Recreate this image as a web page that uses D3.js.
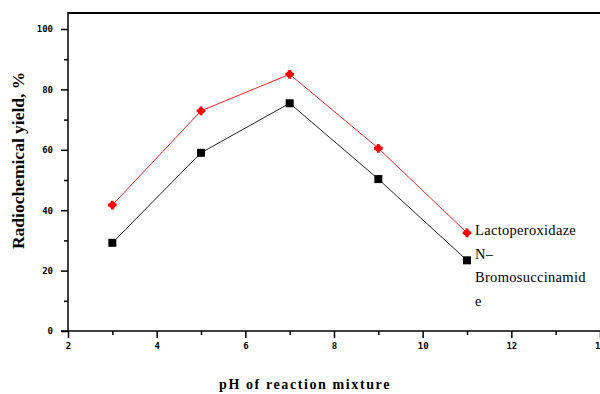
<!DOCTYPE html>
<html><head><meta charset="utf-8">
<script src="https://cdn.jsdelivr.net/npm/d3@7/dist/d3.min.js"></script>
<style>body{margin:0;background:#fff}svg{display:block}</style>
</head><body><svg id="c" width="600" height="394"></svg>
<script>
const phValues = [3, 5, 7, 9, 11];
const lactoperoxidaze = [41.7, 72.9, 85.0, 60.5, 32.5];
const bromosuccinamide = [29.2, 59.0, 75.4, 50.3, 23.4];
const xTicks = [2, 4, 6, 8, 10, 12, 14];
const yTicks = [0, 20, 40, 60, 80, 100];
const legendLines = ["Lactoperoxidaze", "N\u2013", "Bromosuccinamid", "e"];

const svg = d3.select("#c");
const x = d3.scaleLinear().domain([2, 14]).range([68, 600]);
const y = d3.scaleLinear().domain([0, 100]).range([331, 29]);
const yTop = y(105.3);

// frame top
svg.append("line").attr("x1", x(2)).attr("x2", 600).attr("y1", yTop).attr("y2", yTop)
  .attr("stroke", "#000").attr("stroke-width", 2);

const tickFont = "'DejaVu Sans Mono', monospace";

// y axis
const yAxis = svg.append("g").attr("transform", `translate(${x(2)},0)`)
  .call(d3.axisLeft(y).tickValues(yTicks).tickSize(7).tickPadding(8).tickFormat(d3.format("d")));
yAxis.select(".domain").remove();
yAxis.selectAll("text").attr("font-family", tickFont).attr("font-weight", "bold").attr("font-size", 9).attr("fill", "#000");
yAxis.selectAll("line").attr("stroke-width", 1.5);
svg.append("g").attr("transform", `translate(${x(2)},0)`)
  .call(d3.axisLeft(y).tickValues(d3.range(10, 100, 20)).tickSize(4).tickFormat(""))
  .call(g => g.select(".domain").remove())
  .selectAll("line").attr("stroke-width", 1.5);
svg.append("line").attr("x1", x(2)).attr("x2", x(2)).attr("y1", yTop - 1).attr("y2", y(0))
  .attr("stroke", "#000").attr("stroke-width", 1.5);

// x axis
const xAxis = svg.append("g").attr("transform", `translate(0,${y(0)})`)
  .call(d3.axisBottom(x).tickValues(xTicks).tickSize(7).tickPadding(5).tickFormat(d3.format("d")));
xAxis.select(".domain").remove();
xAxis.selectAll("text").attr("font-family", tickFont).attr("font-weight", "bold").attr("font-size", 9).attr("fill", "#000");
xAxis.selectAll("line").attr("stroke-width", 1.5);
svg.append("g").attr("transform", `translate(0,${y(0)})`)
  .call(d3.axisBottom(x).tickValues(d3.range(3, 14, 2)).tickSize(4).tickFormat(""))
  .call(g => g.select(".domain").remove())
  .selectAll("line").attr("stroke-width", 1.5);
svg.append("line").attr("x1", x(2) - 7).attr("x2", 600).attr("y1", y(0)).attr("y2", y(0))
  .attr("stroke", "#000").attr("stroke-width", 1.5);

// series
const line = d3.line().x((d, i) => x(phValues[i])).y(d => y(d));
svg.append("path").datum(bromosuccinamide).attr("d", line)
  .attr("fill", "none").attr("stroke", "#222").attr("stroke-width", 1);
svg.append("path").datum(lactoperoxidaze).attr("d", line)
  .attr("fill", "none").attr("stroke", "#ff2020").attr("stroke-width", 1);

svg.selectAll(".sq").data(bromosuccinamide).enter().append("rect")
  .attr("x", (d, i) => x(phValues[i]) - 4).attr("y", d => y(d) - 4)
  .attr("width", 8).attr("height", 8).attr("fill", "#000");
svg.selectAll(".rd").data(lactoperoxidaze).enter().append("path")
  .attr("transform", (d, i) => `translate(${x(phValues[i])},${y(d)})`)
  .attr("d", d3.symbol().type(d3.symbolCross).size(42)).attr("fill", "#ff0000");
svg.selectAll(".rc").data(lactoperoxidaze).enter().append("circle")
  .attr("cx", (d, i) => x(phValues[i])).attr("cy", d => y(d)).attr("r", 3.2).attr("fill", "#ff0000");

// legend
svg.append("g").selectAll("text").data(legendLines).enter().append("text")
  .attr("x", 475).attr("y", (d, i) => 235 + i * 23.5)
  .attr("font-family", "'Liberation Serif', serif").attr("font-size", 14.5).attr("letter-spacing", 0.3).attr("fill", "#000")
  .text(d => d);

// axis titles
svg.append("text").attr("transform", `translate(24,${y(56.5)}) rotate(-90)`)
  .attr("text-anchor", "middle").attr("font-family", "'Liberation Serif', serif")
  .attr("font-weight", "bold").attr("font-size", 17.5).attr("fill", "#000")
  .text("Radiochemical yield, %");
svg.append("text").attr("x", 305).attr("y", 389)
  .attr("text-anchor", "middle").attr("font-family", "'Liberation Serif', serif")
  .attr("font-weight", "bold").attr("font-size", 14).attr("letter-spacing", 1.6).attr("fill", "#000")
  .text("pH of reaction mixture");
</script></body></html>
